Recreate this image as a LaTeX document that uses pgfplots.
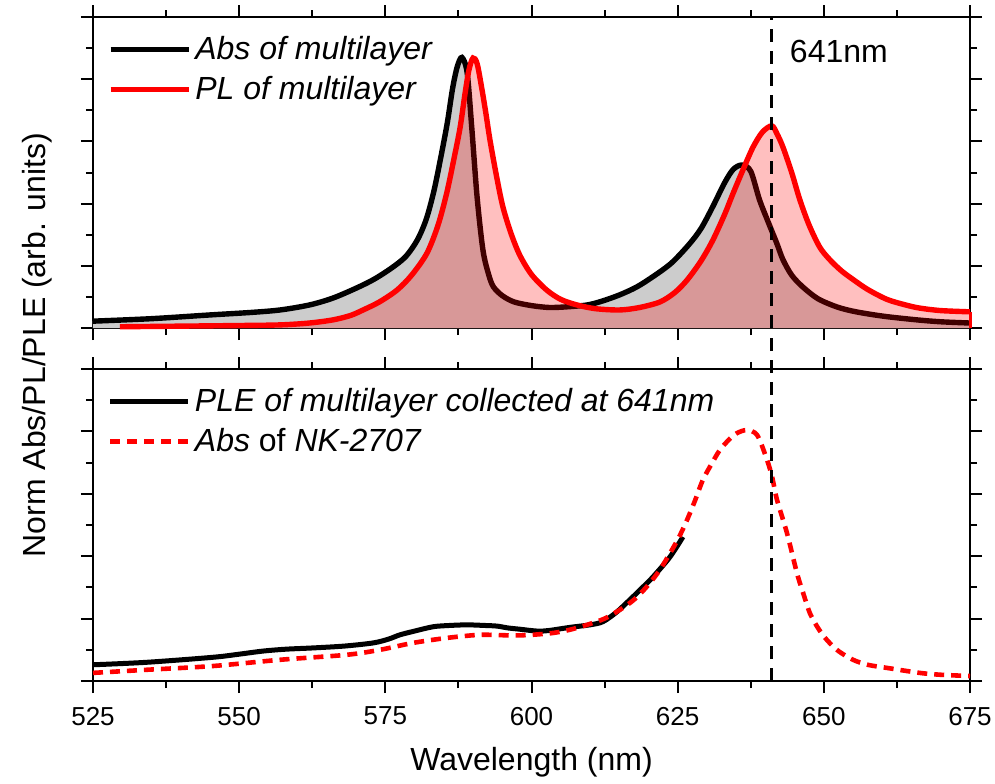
\documentclass[border=0pt]{standalone}
\usepackage{pgfplots}
\pgfplotsset{compat=1.18}
\usepackage{pgfplotstable}
\usepackage{fontspec}
\setmainfont{Liberation Sans}

\pgfplotstableread{
x y
525 0.11
535 0.15
545 0.21
552 0.25
557 0.29
562 0.37
566 0.48
570 0.64
573 0.78
576 0.96
578.5 1.15
580.5 1.42
582 1.75
583.3 2.20
584.5 2.75
585.6 3.30
586.5 3.85
587.3 4.20
588.1 4.35
589 4.10
589.8 3.20
590.7 2.10
591.7 1.25
592.7 0.85
593.5 0.66
595 0.52
597 0.42
600 0.36
603 0.33
606 0.34
609.5 0.37
612 0.43
615 0.53
618 0.66
621 0.84
624 1.05
627 1.35
629 1.60
631 1.95
633 2.33
634.5 2.55
636 2.62
637.5 2.52
639 2.06
640.5 1.70
642 1.35
643 1.10
644.5 0.85
646.4 0.66
649 0.47
652.2 0.34
655 0.27
658 0.22
661 0.18
666 0.13
670 0.10
675 0.08
}\absml

\pgfplotstableread{
x y
529.6 0.02
540 0.03
550 0.04
557 0.05
562 0.08
566 0.13
569 0.20
571.2 0.29
574 0.42
577 0.61
579.5 0.85
582.1 1.20
584 1.65
585.5 2.17
586.8 2.75
587.8 3.23
588.6 3.75
589.3 4.15
590 4.34
590.7 4.25
591.5 3.85
592.2 3.45
592.9 3.02
594 2.45
595.1 1.95
596.5 1.52
598 1.17
600 0.86
602.6 0.61
605 0.46
607.8 0.37
611 0.31
615.1 0.29
618.5 0.33
622 0.42
624.5 0.57
626.6 0.77
629 1.08
631 1.41
633 1.82
634.5 2.17
636.2 2.55
637.9 2.91
639.5 3.15
641.1 3.25
642 3.12
643 2.91
644.5 2.50
645.9 2.06
647.5 1.65
649.3 1.30
651 1.10
653 0.92
655 0.78
657.5 0.62
660.8 0.46
664 0.37
666.4 0.32
670 0.28
675 0.26
}\plml

\pgfplotstableread{
x y
525 0.26
534.2 0.30
545.5 0.38
550 0.43
554.1 0.48
558 0.51
562.6 0.53
568 0.56
572.9 0.61
575.5 0.67
577.5 0.74
580 0.80
583.2 0.87
586 0.89
589 0.90
592 0.89
594.1 0.88
596 0.85
598 0.83
601 0.80
603 0.81
606.6 0.86
610 0.90
612.2 0.95
614.5 1.10
616.8 1.30
619 1.50
620.8 1.67
623.7 1.99
625.9 2.31
}\ple

\pgfplotstableread{
x y
525 0.13
534.2 0.18
545.5 0.24
557 0.34
568.4 0.42
574.1 0.50
579.7 0.61
585.5 0.69
591.2 0.74
596.8 0.73
600 0.74
603.7 0.77
606.5 0.82
609.5 0.90
612.5 1.00
615.1 1.14
617.5 1.30
619.7 1.51
621.8 1.76
623.7 2.05
625.2 2.30
626.6 2.58
628 2.90
629.3 3.22
630.8 3.48
632.2 3.70
633.7 3.86
635.1 3.97
636.8 4.02
638.6 3.94
640.3 3.54
641.2 3.25
642 2.90
643.7 2.37
645.4 1.73
646.5 1.40
647.6 1.09
649 0.85
650.5 0.66
652.5 0.48
655 0.34
657.5 0.26
660.8 0.21
666.4 0.13
670 0.10
675 0.08
}\nk

\pgfplotsset{
  panel/.style={
    scale only axis, width=438.5pt,
    at={(0pt,0pt)}, anchor=south west,
    xmin=525, xmax=675, ymin=0, ymax=5,
    xtick={525,550,...,675}, minor x tick num=1,
    ytick={0,1,...,5}, minor y tick num=1, yticklabels={},
    tick align=outside, tick pos=both,
    major tick length=6pt, minor tick length=3.5pt,
    axis line style={line width=1pt},
    every tick/.style={black, line width=1pt},
    clip=false,
    /pgf/number format/assume math mode=true,
    xticklabel style={font=\fontsize{13}{15}\selectfont, yshift=-3.5pt},
    legend style={draw=none, fill=none, inner sep=0pt, outer sep=0pt,
      font=\fontsize{16}{19}\selectfont, row sep=3pt,
      nodes={inner sep=2pt}},
    legend cell align=left,
    legend image code/.code={\draw[##1] (0pt,0pt) -- (39pt,0pt);},
  }
}

\begin{document}
\begin{tikzpicture}
\useasboundingbox (-46.5pt,-51pt) rectangle (451pt,340.5pt);

% bottom panel
\begin{axis}[panel, height=156pt,
  legend style={at={(axis description cs:0.017,0.833)}, anchor=west}]
\addplot[black, line width=2.5pt, smooth, tension=0.5] table[x=x,y=y] {\ple};
\addlegendentry{\textit{PLE of multilayer collected at 641nm}}
\addplot[red, line width=2.3pt, dash pattern=on 5pt off 3.5pt, smooth, tension=0.5] table[x=x,y=y] {\nk};
\addlegendentry{\textit{Abs} of \textit{NK-2707}}
\draw[black, line width=1.4pt, dash pattern=on 6.5pt off 4.5pt] (axis cs:641,0) -- (axis cs:641,5.66);
\end{axis}

% top panel
\begin{axis}[panel, height=155.5pt, at={(0pt,176.5pt)}, xticklabels={},
  legend style={at={(axis description cs:0.017,0.831)}, anchor=west}]
\addplot[draw=none, fill=black!20, forget plot, smooth, tension=0.5] table[x=x,y=y] {\absml} \closedcycle;
\addplot[black, line width=2.7pt, smooth, tension=0.5] table[x=x,y=y] {\absml};
\addlegendentry{\textit{Abs of multilayer}}
\addplot[draw=none, fill=red, fill opacity=0.25, forget plot, smooth, tension=0.5] table[x=x,y=y] {\plml} \closedcycle;
\addplot[red, line width=2.7pt, smooth, tension=0.5] table[x=x,y=y] {\plml};
\addlegendentry{\textit{PL of multilayer}}
\addplot[red, line width=1.5pt, forget plot] coordinates {(675,0.26) (675,0)};
\draw[black, line width=1.4pt, dash pattern=on 6.5pt off 4.5pt] (axis cs:641,0) -- (axis cs:641,5);
\node[anchor=west, font=\fontsize{16}{19}\selectfont] at (axis cs:643,4.45) {641nm};
\end{axis}

\node[rotate=90, anchor=base, font=\fontsize{16}{19}\selectfont] at (-24pt,168pt) {Norm Abs/PL/PLE (arb. units)};
\node[font=\fontsize{16}{19}\selectfont] at (219.25pt,-40.5pt) {Wavelength (nm)};
\end{tikzpicture}
\end{document}
